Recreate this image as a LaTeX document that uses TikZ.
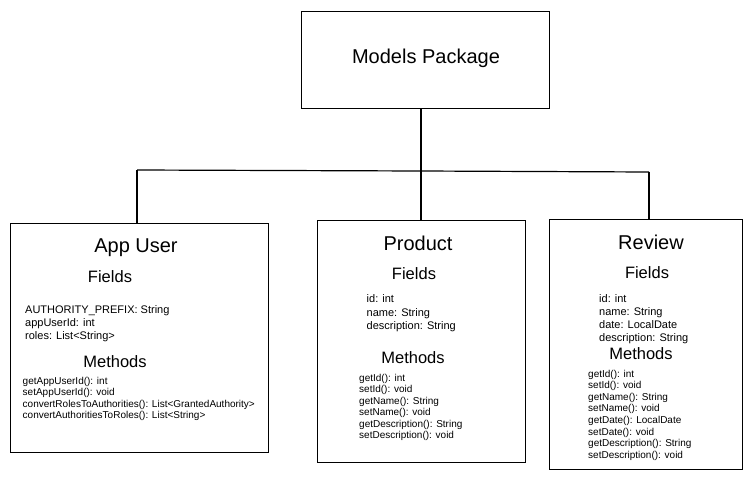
\documentclass[tikz,border=0pt]{standalone}
\usepackage{fontspec}
\setmainfont{Liberation Sans}
\begin{document}
\begin{tikzpicture}[x=1pt,y=-1pt,
  box/.style={draw, line width=1.2pt, anchor=north west, inner sep=0pt},
  conn/.style={line width=1.2pt},
  title/.style={anchor=base, inner sep=0pt, font=\fontsize{20}{24}\selectfont},
  head/.style={anchor=base, inner sep=0pt, font=\fontsize{16.5}{19}\selectfont},
  fld/.style={anchor=base west, inner sep=0pt, font=\fontsize{11}{13}\selectfont},
  mth/.style={anchor=base west, inner sep=0pt, font=\fontsize{10}{12}\selectfont}]
\useasboundingbox (0,0) rectangle (752,479);
\fill[white] (0,0) rectangle (752,479);
% boxes
\node[box, minimum width=248pt, minimum height=97pt] (pkg) at (301,11) {};
\node[box, minimum width=258pt, minimum height=229pt] (appuser) at (10,223) {};
\node[box, minimum width=208pt, minimum height=242pt] (product) at (317,220) {};
\node[box, minimum width=193pt, minimum height=250pt] (review) at (549,219) {};
% connectors
\coordinate (pkgout) at (421,108);
\coordinate (barL) at (137,170);
\coordinate (barM) at (421,171);
\coordinate (barR) at (649,172);
\draw[conn] (pkgout) -- (barM);
\draw[conn] (barL) -- (barM) -- (barR);
\draw[conn] (barL) -- (barL |- appuser.north);
\draw[conn] (barM) -- (barM |- product.north);
\draw[conn] (barR) -- (barR |- review.north);
% package
\node[title] (pkgt) at (426,63) {Models Package};
% App User
\node[title] (aut) at (136,252) {App User};
\node[head] (auf) at (110,282) {Fields};
\foreach \t [count=\i] in {AUTHORITY\_PREFIX: String, appUserId: int, roles: List<String>}
  \node[fld] (aufl\i) at (25,{313+13*(\i-1)}) {\t};
\node[head] (aum) at (115,367) {Methods};
\foreach \t [count=\i] in {getAppUserId(): int, setAppUserId(): void, convertRolesToAuthorities(): List<GrantedAuthority>, convertAuthoritiesToRoles(): List<String>}
  \node[mth] (auml\i) at (22.5,{384+11.5*(\i-1)}) {\t};
% Product
\node[title] (prt) at (418,250.5) {Product};
\node[head] (prf) at (414,279) {Fields};
\foreach \t [count=\i] in {id: int, name: String, description: String}
  \node[fld] (prfl\i) at (366.5,{302.5+13.5*(\i-1)}) {\t};
\node[head] (prm) at (413,363) {Methods};
\foreach \t [count=\i] in {getId(): int, setId(): void, getName(): String, setName(): void, getDescription(): String, setDescription(): void}
  \node[mth] (prml\i) at (359,{381+11.5*(\i-1)}) {\t};
% Review
\node[title] (rvt) at (651,249) {Review};
\node[head] (rvf) at (647,278) {Fields};
\foreach \t [count=\i] in {id: int, name: String, date: LocalDate, description: String}
  \node[fld] (rvfl\i) at (599,{302.5+13*(\i-1)}) {\t};
\node[head] (rvm) at (641,359) {Methods};
\foreach \t [count=\i] in {getId(): int, setId(): void, getName(): String, setName(): void, getDate(): LocalDate, setDate(): void, getDescription(): String, setDescription(): void}
  \node[mth] (rvml\i) at (588,{377+11.6*(\i-1)}) {\t};
\end{tikzpicture}
\end{document}
